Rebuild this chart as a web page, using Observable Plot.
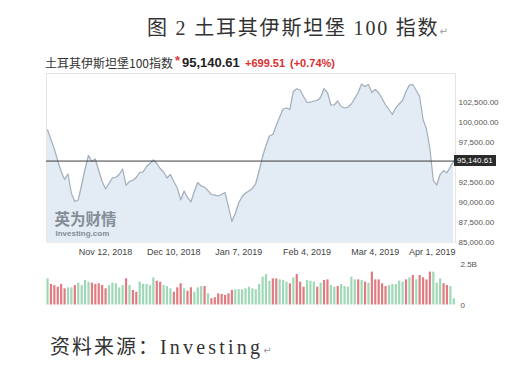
<!DOCTYPE html>
<html><head><meta charset="utf-8">
<script src="https://cdn.jsdelivr.net/npm/d3@7"></script>
<script src="https://cdn.jsdelivr.net/npm/@observablehq/plot@0.6"></script>
<style>
body{margin:0;background:#fff;}
#wrap{position:relative;width:525px;height:369px;overflow:hidden;background:#fff;}
.abs{position:absolute;white-space:pre;}
</style></head><body>
<div id="wrap">
  <div class="abs" style="left:147px;top:16px;font-size:20px;line-height:24px;color:#333;font-family:'Liberation Serif','Noto Sans CJK SC';letter-spacing:1.8px;">图 2 土耳其伊斯坦堡 100 指数<span style="font-size:10px;color:#999;font-family:'DejaVu Sans';letter-spacing:0">↵</span></div>
  <div id="price" class="abs" style="left:0;top:70px"></div>
  <div id="vol" class="abs" style="left:0;top:258px"></div>
  <div class="abs" style="left:50px;top:335px;font-size:20px;line-height:24px;color:#333;font-family:'Liberation Serif','Noto Sans CJK SC';letter-spacing:2px;">资料来源：<span style="letter-spacing:3.2px">Investing</span><span style="font-size:10px;color:#999;font-family:'DejaVu Sans';letter-spacing:0">↵</span></div>
</div>
<script>
const indexName = "土耳其伊斯坦堡100指数";
const dates = [
 "2018-10-17","2018-10-18","2018-10-19",
 "2018-10-22","2018-10-23","2018-10-24","2018-10-25","2018-10-26",
 "2018-10-30","2018-10-31","2018-11-01","2018-11-02",
 "2018-11-05","2018-11-06","2018-11-07","2018-11-08","2018-11-09",
 "2018-11-12","2018-11-13","2018-11-14","2018-11-15","2018-11-16",
 "2018-11-19","2018-11-20","2018-11-21","2018-11-22","2018-11-23",
 "2018-11-26","2018-11-27","2018-11-28","2018-11-29","2018-11-30",
 "2018-12-03","2018-12-04","2018-12-05","2018-12-06","2018-12-07",
 "2018-12-10","2018-12-11","2018-12-12","2018-12-13","2018-12-14",
 "2018-12-17","2018-12-18","2018-12-19","2018-12-20","2018-12-21",
 "2018-12-24","2018-12-25","2018-12-26","2018-12-27","2018-12-28",
 "2018-12-31","2019-01-02","2019-01-03","2019-01-04",
 "2019-01-07","2019-01-08","2019-01-09","2019-01-10","2019-01-11",
 "2019-01-14","2019-01-15","2019-01-16","2019-01-17","2019-01-18",
 "2019-01-21","2019-01-22","2019-01-23","2019-01-24","2019-01-25",
 "2019-01-28","2019-01-29","2019-01-30","2019-01-31","2019-02-01",
 "2019-02-04","2019-02-05","2019-02-06","2019-02-07","2019-02-08",
 "2019-02-11","2019-02-12","2019-02-13","2019-02-14","2019-02-15",
 "2019-02-18","2019-02-19","2019-02-20","2019-02-21","2019-02-22",
 "2019-02-25","2019-02-26","2019-02-27","2019-02-28","2019-03-01",
 "2019-03-04","2019-03-05","2019-03-06","2019-03-07","2019-03-08",
 "2019-03-11","2019-03-12","2019-03-13","2019-03-14","2019-03-15",
 "2019-03-18","2019-03-19","2019-03-20","2019-03-21","2019-03-22",
 "2019-03-25","2019-03-26","2019-03-27","2019-03-28","2019-03-29",
 "2019-04-01","2019-04-02","2019-04-03","2019-04-04"
];
const closes = [
 99050, 97840, 96650, 95150, 93840, 92840, 93520, 91090, 90090, 90280,
 92150, 94150, 95840, 95110, 95400, 93960, 92590, 91650, 92340, 93030,
 93090, 93460, 94150, 92090, 92590, 92740, 93090, 93710, 93780, 94460,
 94840, 95300, 94840, 94210, 93780, 93030, 93460, 92590, 91780, 90280,
 91380, 90590, 90030, 91340, 92460, 92030, 91880, 91460, 90960, 90880,
 90780, 90960, 91210, 89460, 87590, 88590, 89900, 90710, 91150, 91400,
 91710, 92340, 93960, 95710, 97090, 98280, 98460, 99590, 100650, 101650,
 101780, 101590, 103840, 104180, 104030, 103210, 102460, 102500, 102650, 102710,
 103090, 104210, 103710, 102150, 102150, 102650, 101960, 101780, 101880, 102280,
 102960, 103710, 104780, 104460, 104710, 103710, 104090, 103680, 102960, 102150,
 101590, 100960, 101780, 102280, 102710, 103840, 104630, 104710, 103960, 103210,
 100340, 99150, 96710, 92710, 92150, 93460, 93960, 93680, 94441.10, 95140.61
];
// volume in billions
const volumes = [
 1.62,1.27,1.20,1.10,1.27,1.00,1.06,1.06,1.20,1.35,
 1.20,1.51,1.41,1.35,1.27,1.31,1.20,1.00,1.20,1.35,
 1.31,1.06,1.20,1.62,1.20,0.90,0.79,1.41,1.27,1.27,
 1.20,1.67,1.47,1.41,1.20,1.14,1.00,0.79,1.06,1.31,
 1.00,0.85,1.06,0.79,1.06,1.14,1.14,0.69,0.39,0.45,
 0.69,0.65,0.59,0.69,0.90,0.94,0.94,0.94,1.00,1.10,
 1.00,0.94,1.27,
 1.72,1.88,1.47,1.61,1.61,1.55,1.51,1.41,1.31,1.68,
 1.88,1.41,1.10,1.51,1.47,1.41,1.10,1.35,1.51,1.55,
 1.20,1.10,1.14,1.26,1.14,1.10,1.72,1.55,1.55,1.51,
 1.41,1.35,2.03,1.55,1.55,1.31,1.14,1.20,1.26,1.26,
 1.47,1.41,1.55,1.68,
 1.82,1.55,1.82,1.68,1.55,2.03,2.03,1.35,1.61,1.31,1.20,1.14,0.38
];
const volDir = (
 "u d d d d d u u d u " +
 "u u u d d d d d u u " +
 "u u u d u d d u u u " +
 "u u d d u u u d d d " +
 "u d d u u u d u d d " +
 "d d d d d u u u u u " +
 "u u u " +
 "u u u d d u u u d u " +
 "d d d u u u d u d d " +
 "u u d u u u u u d u " +
 "d u d d d d d u u u " +
 "u u d u " +
 "d u d d d d u u u d d u u").trim().split(/\s+/);
const yTicks = [85000, 87500, 90000, 92500, 97500, 100000, 102500];
const xTickDates = ["2018-11-12","2018-12-10","2019-01-07","2019-02-04","2019-03-04","2019-04-01"];
const volTicks = [0, 2.5];

const parse = d3.utcParse("%Y-%m-%d");
const fmtDate = d3.utcFormat("%b %-d, %Y");
const price = dates.map((d, i) => ({i, date: d, v: closes[i]}));
const vol = dates.map((d, i) => ({i, v: volumes[i], dir: volDir[i]}));
const last = closes[closes.length - 1];
const prev = closes[closes.length - 2];
const fmt2 = d3.format(",.2f");
const tickIdx = xTickDates.map(d => dates.indexOf(d));
const labelOf = i => fmtDate(parse(dates[i]));
const wrap = document.getElementById("wrap");

// header
const chg = last - prev, pct = chg / prev * 100;
const parts = [
  {t: indexName, left: 45, size: 12, color: "#333", weight: "normal", font: "'Noto Sans CJK SC'"},
  {t: "*", left: 175, size: 13, color: "#e03a3a", weight: "bold", font: "'Liberation Sans'", top: -2},
  {t: fmt2(last), left: 182, size: 13, color: "#222", weight: "bold", font: "'Liberation Sans'"},
  {t: (chg >= 0 ? "+" : "") + fmt2(chg), left: 245, size: 11, color: "#d83030", weight: "bold", font: "'Liberation Sans'"},
  {t: "(" + (pct >= 0 ? "+" : "") + pct.toFixed(2) + "%)", left: 290, size: 11, color: "#d83030", weight: "bold", font: "'Liberation Sans'"}
];
for (const p of parts) {
  const s = document.createElement("div");
  s.className = "abs";
  s.textContent = p.t;
  s.style.cssText = `left:${p.left}px;top:${56 + (p.top||0)}px;line-height:14px;font-size:${p.size}px;color:${p.color};font-weight:${p.weight};font-family:${p.font};`;
  wrap.appendChild(s);
}

const W = 525;
const yMin = yTicks[0];
const priceChart = Plot.plot({
  width: W, height: 195,
  marginLeft: 46, marginRight: 70, marginTop: 3, marginBottom: 23.3,
  style: {fontFamily: "'Liberation Sans', Arial, sans-serif", background: "transparent", overflow: "visible"},
  x: {domain: [-0.3, 119.5], axis: null},
  y: {domain: [yMin, 106087.5], axis: null},
  marks: [
    Plot.frame({stroke: "#e4e4e4"}),
    Plot.areaY(price, {x: "i", y1: () => yMin, y2: "v", fill: "#e3ebf4"}),
    Plot.lineY(price, {x: "i", y: "v", stroke: "#a2aebc", strokeWidth: 1.2}),
    Plot.text(["英为财情"], {frameAnchor: "bottom-left", dx: 8, dy: -17, textAnchor: "start", fontSize: 15.5, fontWeight: "bold", fill: "#848d98", fontFamily: "'Noto Sans CJK SC'"}),
    Plot.text(["Investing.com"], {frameAnchor: "bottom-left", dx: 9, dy: -6, textAnchor: "start", fontSize: 8, fontWeight: "bold", fill: "#838c96"}),
    Plot.ruleY([last], {stroke: "#3c3c3c", strokeWidth: 1}),
    Plot.axisY(yTicks, {anchor: "right", label: null, tickSize: 0, tickPadding: 3, tickFormat: d3.format(",.2f"), fontSize: 8, fill: "#555"}),
    Plot.axisX(tickIdx.slice(0, -1), {anchor: "bottom", label: null, tickSize: 0, tickPadding: 6, tickFormat: labelOf, fontSize: 9, fill: "#444"}),
    Plot.axisX(tickIdx.slice(-1), {anchor: "bottom", label: null, tickSize: 0, tickPadding: 6, tickFormat: labelOf, fontSize: 9, fill: "#444", textAnchor: "end", dx: 12})
  ]
});
document.getElementById("price").appendChild(priceChart);

// last-value tag positioned with the chart's own y scale
const yPx = priceChart.scale("y").apply(last);
const tag = document.createElement("div");
tag.className = "abs";
tag.textContent = fmt2(last);
tag.style.cssText = `left:454px;top:${70 + yPx - 5.5}px;height:11px;line-height:11px;padding:0 3px;font-size:8px;color:#fff;background:#2b2b2b;font-family:'Liberation Sans',Arial;`;
wrap.appendChild(tag);

const volChart = Plot.plot({
  width: W, height: 52,
  marginLeft: 46, marginRight: 70, marginTop: 6, marginBottom: 5.5,
  style: {fontFamily: "'Liberation Sans', Arial, sans-serif", background: "transparent", overflow: "visible"},
  x: {domain: [-0.3, 119.5], axis: null},
  y: {domain: [0, 2.5], axis: null},
  color: {domain: ["u", "d"], range: ["#9fd8b6", "#e07b80"]},
  marks: [
    Plot.ruleX(vol, {x: "i", y1: 0, y2: "v", stroke: "dir", strokeWidth: 2.2}),
    Plot.axisY(volTicks, {anchor: "right", label: null, tickSize: 0, tickPadding: 5, tickFormat: d => d === 0 ? "0" : d + "B", fontSize: 8, fill: "#555"})
  ]
});
document.getElementById("vol").appendChild(volChart);
</script>
</body></html>
